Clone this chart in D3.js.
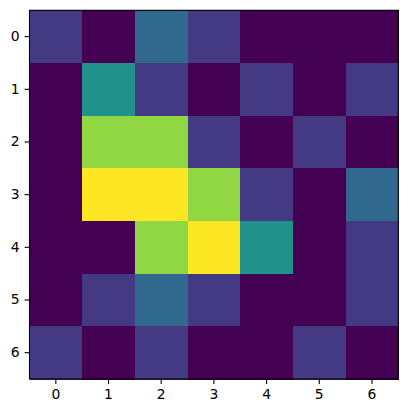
<!DOCTYPE html>
<html><head><meta charset="utf-8">
<script src="https://cdn.jsdelivr.net/npm/d3@7"></script>
<style>body{margin:0;background:#fff}svg{display:block}</style>
</head><body>
<script>
const rowLabels = ["0","1","2","3","4","5","6"];
const colLabels = ["0","1","2","3","4","5","6"];
const values = [
  [1,0,2,1,0,0,0],
  [0,3,1,0,1,0,1],
  [0,5,5,1,0,1,0],
  [0,6,6,5,1,0,2],
  [0,0,5,6,3,0,1],
  [0,1,2,1,0,0,1],
  [1,0,1,0,0,1,0]
];
const W = 408, H = 413;
const L = 29.5, R = 398.3, T = 10.3, B = 379;
const svg = d3.select("body").append("svg").attr("width", W).attr("height", H);
const x = d3.scaleBand().domain(colLabels).range([L, R]).padding(0);
const y = d3.scaleBand().domain(rowLabels).range([T, B]).padding(0);
const vmax = d3.max(values.flat());
const color = d3.scaleSequential(d3.interpolateViridis).domain([0, vmax]);
const cells = [];
values.forEach((row, i) => row.forEach((v, j) => cells.push({r: rowLabels[i], c: colLabels[j], v})));
svg.append("g").selectAll("rect").data(cells).join("rect")
  .attr("x", d => x(d.c)).attr("y", d => y(d.r))
  .attr("width", x.bandwidth() + 0.5).attr("height", y.bandwidth() + 0.5)
  .attr("fill", d => color(d.v)).attr("shape-rendering", "crispEdges");
svg.append("rect").attr("x", L).attr("y", T).attr("width", R - L).attr("height", B - T)
  .attr("fill", "none").attr("stroke", "#000").attr("stroke-width", 1.1);
const xa = svg.append("g").attr("transform", `translate(0,${B})`)
  .call(d3.axisBottom(x).tickSize(4.9).tickPadding(4.9));
const ya = svg.append("g").attr("transform", `translate(${L},0)`)
  .call(d3.axisLeft(y).tickSize(4.9).tickPadding(4.9));
[xa, ya].forEach(a => {
  a.select(".domain").remove();
  a.selectAll("line").attr("stroke", "#000").attr("stroke-width", 1.1);
  a.selectAll("text").attr("font-family", "DejaVu Sans").attr("font-size", 13.9).attr("fill", "#000");
});
</script>
</body></html>
